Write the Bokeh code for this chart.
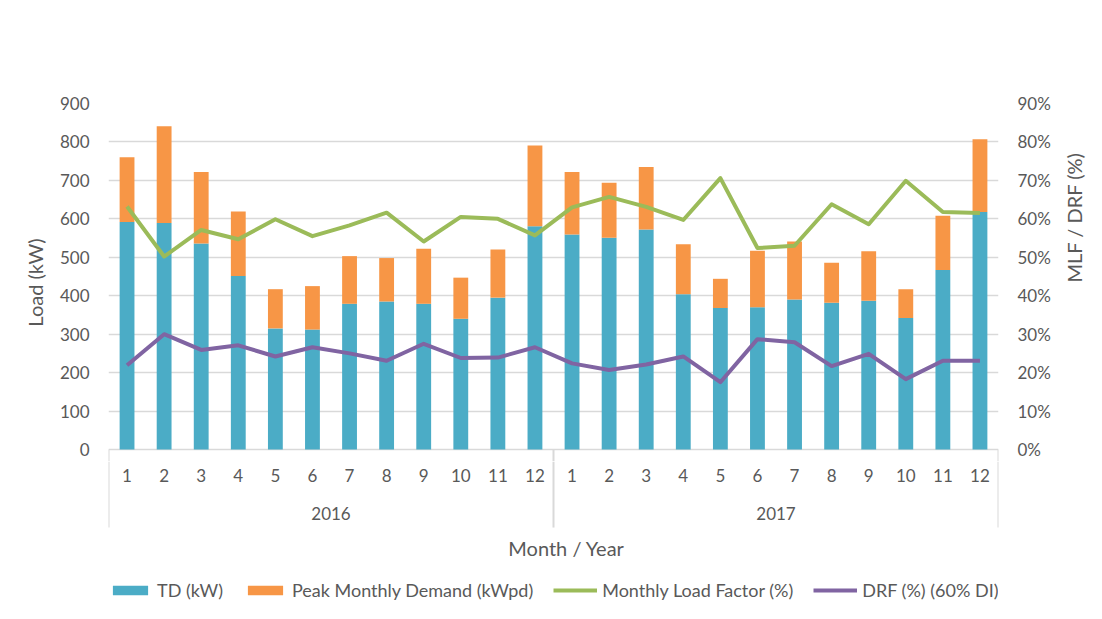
import math
from bokeh.plotting import figure
from bokeh.layouts import column
from bokeh.models import (FactorRange, Range1d, LinearAxis, NumeralTickFormatter,
                          ColumnDataSource, Legend, LegendItem, FixedTicker)
from bokeh.core.properties import value
from bokeh.embed import file_html
from bokeh.resources import INLINE

years = ["2016", "2017"]
months = ["1", "2", "3", "4", "5", "6", "7", "8", "9", "10", "11", "12"]

td_kw = [592, 589, 536, 451, 315, 312, 379, 385, 379, 340, 395, 581,
         559, 551, 572, 404, 368, 370, 390, 382, 387, 342, 467, 618]
peak_kwpd = [168, 252, 186, 168, 102, 113, 124, 113, 143, 107, 125, 210,
             163, 143, 163, 130, 76, 147, 151, 104, 129, 75, 141, 189]
mlf_pct = [63.2, 50.2, 57.1, 54.7, 59.9, 55.5, 58.3, 61.6, 54.1, 60.5, 60.0, 55.7,
           63.0, 65.7, 63.1, 59.7, 70.6, 52.4, 53.0, 63.8, 58.6, 69.9, 61.8, 61.5]
drf_pct = [21.9, 30.0, 25.9, 27.1, 24.2, 26.6, 25.0, 23.1, 27.5, 23.8, 23.9, 26.6,
           22.4, 20.7, 22.1, 24.2, 17.5, 28.7, 27.9, 21.7, 24.9, 18.3, 23.1, 23.1]

load_ticks = [0, 100, 200, 300, 400, 500, 600, 700, 800, 900]
pct_ticks = [0.0, 0.1, 0.2, 0.3, 0.4, 0.5, 0.6, 0.7, 0.8, 0.9]

factors = [(y, m) for y in years for m in months]

src = ColumnDataSource(data=dict(
    x=factors,
    td=td_kw,
    peak=peak_kwpd,
    mlf=[v / 100 for v in mlf_pct],
    drf=[v / 100 for v in drf_pct],
))

FONT = "Lato"
FS = "17px"
TITLE_FS = "20px"
LEG_FS = "18px"
TXT = "#595959"
GRID = "#d9d9d9"
C_TD, C_PK, C_MLF, C_DRF = "#4BACC6", "#F79646", "#9BBB59", "#8064A2"

# vertical layout in kW units below zero
SPLIT = -31.2      # bottom of the main frame / top of the axis panel
BOTTOM = -434.4    # bottom of the axis panel
MONTH_Y = -67.6
YEAR_Y = -166.5
SEP_Y = -203
XTITLE_Y = -257.5

# ---------------- main chart ----------------
p = figure(width=1100, height=461,
           x_range=FactorRange(*factors, factor_padding=0, group_padding=0, range_padding=0),
           y_range=Range1d(SPLIT, 900),
           x_axis_location=None,
           output_backend="svg", toolbar_location=None,
           min_border_left=108, min_border_right=102,
           min_border_top=103, min_border_bottom=0)
p.outline_line_color = None
p.extra_y_ranges = {"pct": Range1d(SPLIT / 1000, 0.9)}

bars = p.vbar_stack(["td", "peak"], x="x", width=0.4, source=src,
                    color=[C_TD, C_PK], line_color=None)
p.line("x", "mlf", source=src, y_range_name="pct", line_color=C_MLF,
       line_width=4, line_join="round")
p.line("x", "drf", source=src, y_range_name="pct", line_color=C_DRF,
       line_width=4, line_join="round")
p.segment(x0=[0, 12, 24], y0=[0, 0, 0], x1=[0, 12, 24], y1=[SEP_Y] * 3,
          line_color=GRID, line_width=2)

ya = p.yaxis[0]
ya.ticker = FixedTicker(ticks=load_ticks)
ya.axis_line_color = None
ya.major_tick_line_color = None
ya.minor_tick_line_color = None
ya.major_label_text_font = FONT
ya.major_label_text_font_size = FS
ya.major_label_text_color = TXT
ya.major_label_standoff = 13
ya.axis_label = "Load (kW)"
ya.axis_label_text_font = FONT
ya.axis_label_text_font_size = TITLE_FS
ya.axis_label_text_font_style = "normal"
ya.axis_label_text_color = TXT
ya.axis_label_standoff = 10
p.ygrid.ticker = FixedTicker(ticks=load_ticks)
p.ygrid.grid_line_color = GRID
p.ygrid.grid_line_width = 1.5
p.xgrid.grid_line_color = None

ra = LinearAxis(y_range_name="pct", ticker=FixedTicker(ticks=pct_ticks),
                formatter=NumeralTickFormatter(format="0%"))
ra.axis_line_color = None
ra.major_tick_line_color = None
ra.minor_tick_line_color = None
ra.major_label_text_font = FONT
ra.major_label_text_font_size = FS
ra.major_label_text_color = TXT
ra.major_label_standoff = 13
ra.axis_label = "MLF / DRF (%)"
ra.axis_label_orientation = math.pi / 2
ra.axis_label_text_font = FONT
ra.axis_label_text_font_size = TITLE_FS
ra.axis_label_text_font_style = "normal"
ra.axis_label_text_color = TXT
ra.axis_label_standoff = 20
p.add_layout(ra, "right")

# ---------------- category axis panel + legend ----------------
q = figure(width=1100, height=155,
           x_range=p.x_range,
           y_range=Range1d(BOTTOM, SPLIT),
           x_axis_location=None, y_axis_location=None,
           output_backend="svg", toolbar_location=None,
           min_border_left=108, min_border_right=102,
           min_border_top=0, min_border_bottom=0)
q.outline_line_color = None
q.grid.grid_line_color = None

q.text(x=factors, y=[MONTH_Y] * len(factors), text=[m for _ in years for m in months],
       text_font=value(FONT), text_font_size=FS, text_color=TXT,
       text_align="center", text_baseline="middle")
q.text(x=[(y, months[5], 0.5) for y in years], y=[YEAR_Y] * len(years), text=years,
       text_font=value(FONT), text_font_size=FS, text_color=TXT,
       text_align="center", text_baseline="middle")
q.segment(x0=[0, 12, 24], y0=[SPLIT] * 3, x1=[0, 12, 24], y1=[SEP_Y] * 3,
          line_color=GRID, line_width=2)
q.text(x=[(years[1], months[0], -0.15)], y=[XTITLE_Y], text=["Month / Year"],
       text_font=value(FONT), text_font_size=TITLE_FS, text_color=TXT,
       text_align="center", text_baseline="middle")

# hidden copies of the series in this panel, used only as legend keys
qb = q.vbar_stack(["td", "peak"], x="x", width=0.4, source=src,
                  color=[C_TD, C_PK], line_color=None)
q3 = q.line("x", "mlf", source=src, line_color=C_MLF, line_width=4)
q4 = q.line("x", "drf", source=src, line_color=C_DRF, line_width=4)
for r in (qb[0], qb[1], q3, q4):
    r.visible = False

legend = Legend(items=[
    LegendItem(label="TD (kW)", renderers=[qb[0]]),
    LegendItem(label="Peak Monthly Demand (kWpd)", renderers=[qb[1]]),
    LegendItem(label="Monthly Load Factor (%)", renderers=[q3]),
    LegendItem(label="DRF (%) (60% DI)", renderers=[q4]),
], orientation="horizontal", location=(0, 15))
legend.glyph_width = 44
legend.glyph_height = 12
legend.label_standoff = 5
legend.spacing = 20
legend.padding = 0
legend.margin = 0
legend.inactive_fill_alpha = 0
legend.label_text_font = FONT
legend.label_text_font_size = LEG_FS
legend.label_text_color = TXT
legend.background_fill_alpha = 0
legend.border_line_color = None
q.add_layout(legend, "center")

layout = column(p, q, spacing=0)
open("out.html", "w").write(file_html(layout, INLINE))
